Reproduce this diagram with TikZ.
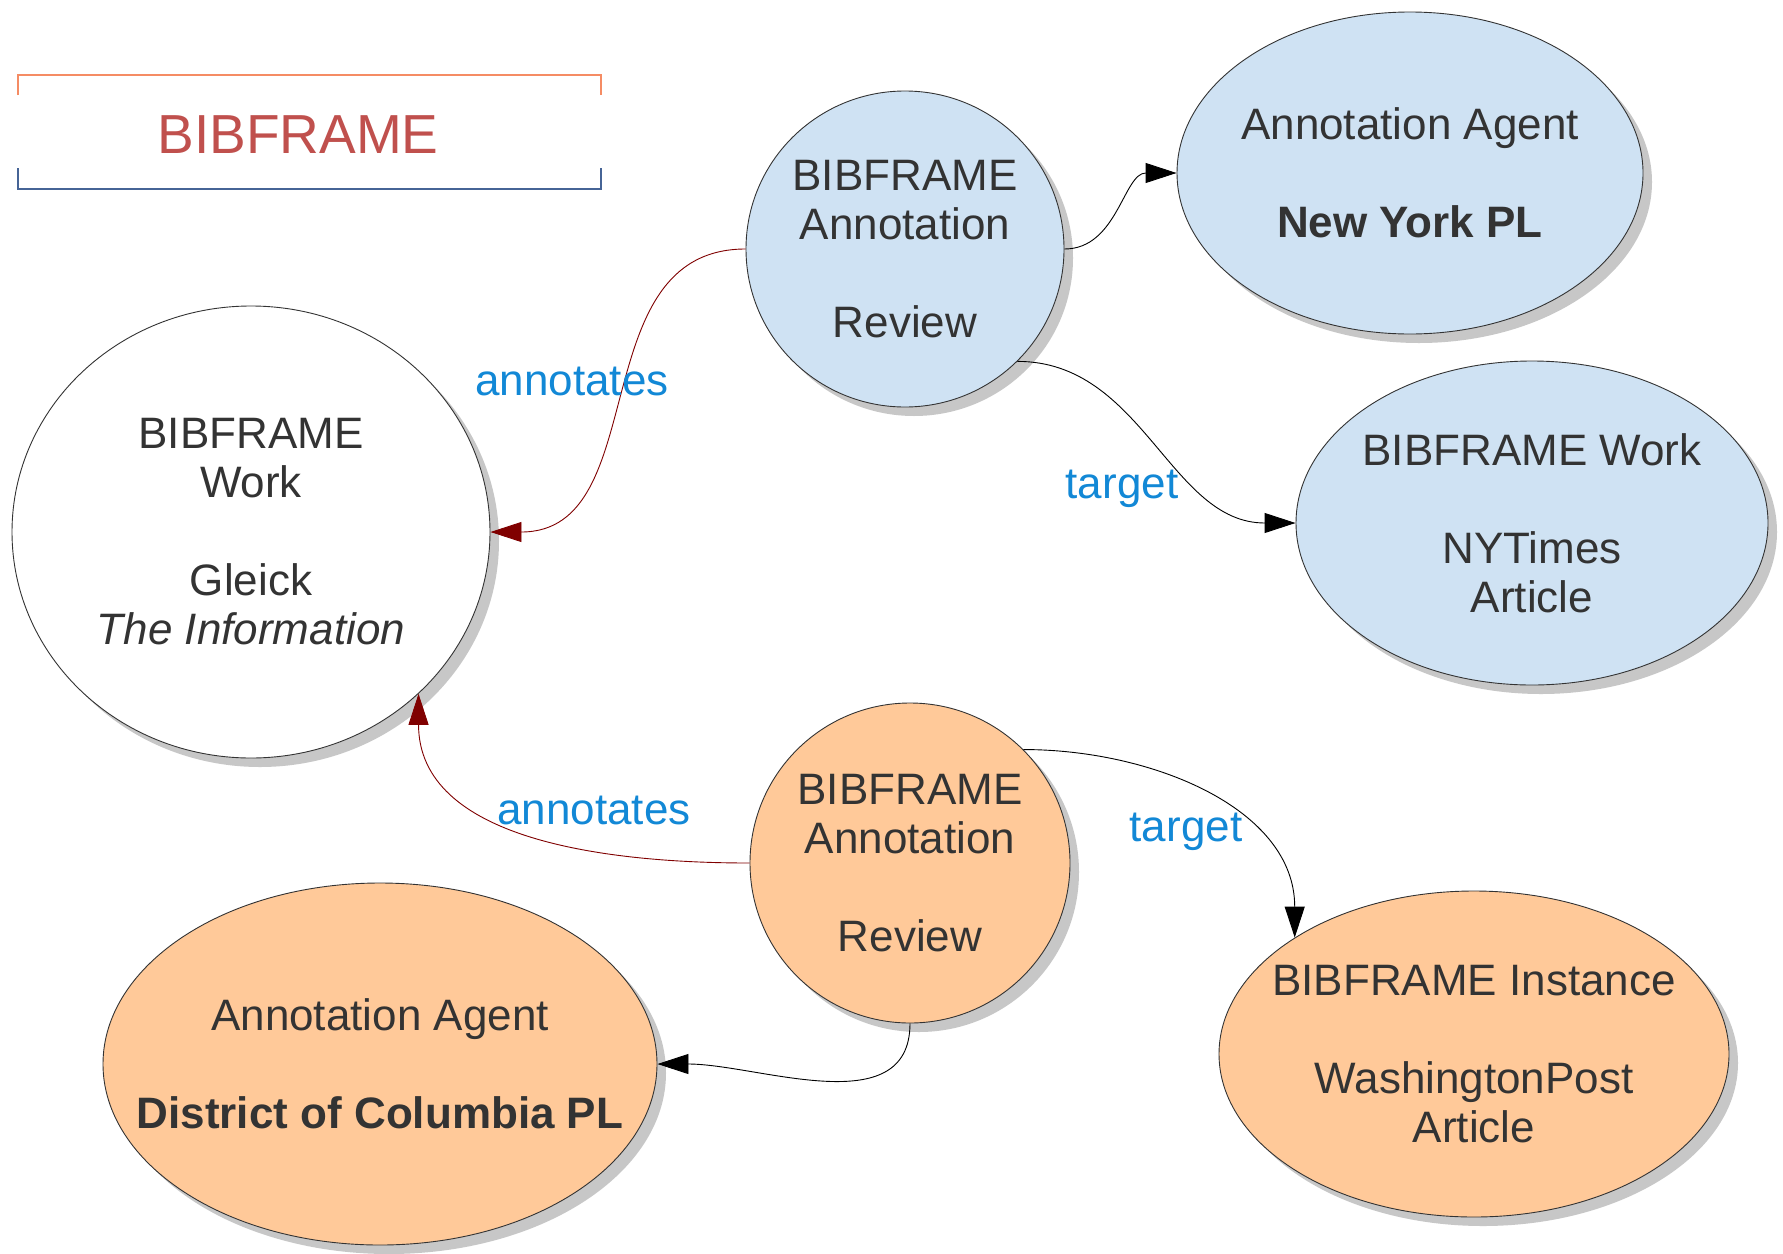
\documentclass[tikz,border=0pt]{standalone}
\usepackage{fontspec}
\setmainfont{Liberation Sans}
\usetikzlibrary{arrows.meta,shapes.geometric,shadows}
\definecolor{bfblue}{RGB}{207,226,243}
\definecolor{bforange}{RGB}{255,201,153}
\definecolor{bfred}{RGB}{128,0,0}
\definecolor{bflabel}{RGB}{18,136,214}
\definecolor{bftitle}{RGB}{192,80,77}
\definecolor{bftop}{RGB}{245,140,100}
\definecolor{bfbottom}{RGB}{70,100,150}
\tikzset{
  bfnode/.style={ellipse, draw=black!80, line width=0.9pt, inner xsep=-160pt, inner ysep=-110pt,
    align=center, text=black!80, font=\fontsize{44}{49}\selectfont,
    drop shadow={shadow xshift=9pt, shadow yshift=-9pt, fill=black!22, opacity=1}},
  worknode/.style={bfnode, fill=white},
  bluenode/.style={bfnode, fill=bfblue},
  orangenode/.style={bfnode, fill=bforange},
  rel/.style={-{Triangle[length=31pt,width=20pt]}, line width=0.9pt, draw=black},
  annot/.style={rel, draw=bfred, color=bfred},
  lbl/.style={text=bflabel, font=\fontsize{44}{49}\selectfont},
  titletext/.style={text=bftitle, font=\fontsize{55}{60}\selectfont}
}
\begin{document}
\begin{tikzpicture}[x=1pt,y=-1pt]
   \fill[white] (0,0) rectangle (1783,1253);

   % title
   \node[titletext] (title) at (298,135) {BIBFRAME};
   \draw[bftop, line width=1.6pt] (18,95) -- (18,75) -- (601,75) -- (601,95);
   \draw[bfbottom, line width=1.6pt] (18,168) -- (18,189) -- (601,189) -- (601,168);

   \node[worknode, minimum width=478pt, minimum height=452pt] (work) at (251,532)
      {BIBFRAME\\Work\\[49pt]Gleick\\\textit{The Information}};
   \node[bluenode, minimum width=318pt, minimum height=316pt] (annot1) at (905,249)
      {BIBFRAME\\Annotation\\[49pt]Review};
   \node[bluenode, minimum width=466pt, minimum height=322pt] (agent1) at (1410,173)
      {Annotation Agent\\[49pt]\textbf{New York PL}};
   \node[bluenode, minimum width=472pt, minimum height=324pt] (article1) at (1532,523)
      {BIBFRAME Work\\[49pt]NYTimes\\Article};
   \node[orangenode, minimum width=320pt, minimum height=320pt] (annot2) at (910,863)
      {BIBFRAME\\Annotation\\[49pt]Review};
   \node[orangenode, minimum width=554pt, minimum height=362pt] (agent2) at (380,1064)
      {Annotation Agent\\[49pt]\textbf{District of Columbia PL}};
   \node[orangenode, minimum width=510pt, minimum height=326pt] (article2) at (1474,1054)
      {BIBFRAME Instance\\[49pt]WashingtonPost\\Article};

   \path (annot1.west) edge[annot, out=180, in=0, looseness=1.1] (work.east)
   (annot2.west) edge[annot, out=180, in=-90] (work.-44);
   \path (annot1.east) edge[rel, out=0, in=180] (agent1.west)
   (annot1.-45) edge[rel, out=0, in=180] (article1.west)
   (annot2.45) edge[rel, out=0, in=90] (article2.147)
   (annot2.south) edge[rel, out=-90, in=0] (agent2.east);

   \node[lbl] (lannot1) at (572,381) {annotates};
   \node[lbl] (ltarget1) at (1122,489) {target};
   \node[lbl] (lannot2) at (594,810) {annotates};
   \node[lbl] (ltarget2) at (1186,832) {target};

\end{tikzpicture}
\end{document}
